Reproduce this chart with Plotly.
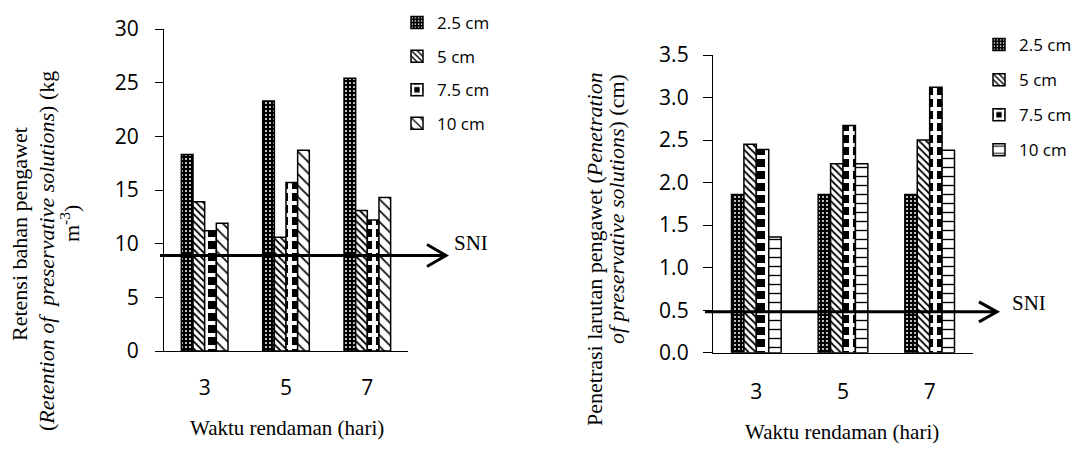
import plotly.graph_objects as go

# ---------------- data ----------------
days = ["3", "5", "7"]
series_names = ["2.5 cm", "5 cm", "7.5 cm", "10 cm"]

retensi_25 = [18.3, 23.3, 25.4]
retensi_5 = [13.9, 10.6, 13.1]
retensi_75 = [11.2, 15.7, 12.2]
retensi_10 = [11.9, 18.7, 14.3]

penetrasi_25 = [1.86, 1.86, 1.86]
penetrasi_5 = [2.45, 2.22, 2.50]
penetrasi_75 = [2.39, 2.67, 3.12]
penetrasi_10 = [1.36, 2.22, 2.38]

sni_retensi = 8.9
sni_penetrasi = 0.48

# ---------------- layout constants ----------------
W, H = 1081, 451
TICK_FONT = dict(family="Open Sans", size=21, color="black")
LEG_FONT = dict(family="Open Sans", size=17, color="black")
SERIF = "Liberation Serif"

def px(x):
    return x / W

def py(y):
    return 1 - y / H

# left plot area (pixels)
L_X0, L_X1, L_YT, L_YB = 164, 408, 29, 351
# right plot area (pixels)
R_X0, R_X1, R_YT, R_YB = 713, 973, 55, 352.7

dots = dict(shape=".", bgcolor="black", fgcolor="white", size=4, solidity=0.2, fgopacity=1)
hatch = dict(shape="\\", bgcolor="white", fgcolor="black", size=5, solidity=0.35, fgopacity=1)
checker = dict(shape="+", bgcolor="black", fgcolor="white", size=12, solidity=0.55, fgopacity=1)

patterns_left = [
    dots, hatch, checker,
    dict(shape="\\", bgcolor="white", fgcolor="black", size=8, solidity=0.2, fgopacity=1),
]
patterns_right = [
    dots, hatch, checker,
    dict(shape="-", bgcolor="white", fgcolor="black", size=9, solidity=0.15, fgopacity=1),
]

fig = go.Figure()

left_values = [retensi_25, retensi_5, retensi_75, retensi_10]
right_values = [penetrasi_25, penetrasi_5, penetrasi_75, penetrasi_10]

for i, (name, vals) in enumerate(zip(series_names, left_values)):
    fig.add_trace(go.Bar(
        x=days, y=vals, name=name, xaxis="x", yaxis="y",
        legend="legend", legendgroup="L%d" % i,
        marker=dict(color="white", line=dict(color="black", width=1.5),
                    pattern=patterns_left[i]),
    ))

for i, (name, vals) in enumerate(zip(series_names, right_values)):
    fig.add_trace(go.Bar(
        x=days, y=vals, name=name, xaxis="x2", yaxis="y2",
        legend="legend2", legendgroup="R%d" % i,
        marker=dict(color="white", line=dict(color="black", width=1.5),
                    pattern=patterns_right[i]),
    ))

axis_common = dict(showline=True, linecolor="black", linewidth=1.3, automargin=False,
                   showgrid=False, zeroline=False, tickfont=TICK_FONT)

fig.update_layout(
    width=W, height=H,
    margin=dict(l=0, r=0, t=0, b=0, autoexpand=False),
    paper_bgcolor="white", plot_bgcolor="white",
    barmode="group", bargap=0.427, bargroupgap=0,
    xaxis=dict(domain=[px(L_X0), px(L_X1)], anchor="y", type="category",
               ticks="", ticklabelstandoff=18, **axis_common),
    yaxis=dict(domain=[py(L_YB), py(L_YT)], anchor="x", range=[0, 30], dtick=5,
               ticks="outside", ticklen=8, tickwidth=1.3, tickcolor="black",
               ticklabelstandoff=12, **axis_common),
    xaxis2=dict(domain=[px(R_X0), px(R_X1)], anchor="y2", type="category",
                ticks="", ticklabelstandoff=20, **axis_common),
    yaxis2=dict(domain=[py(R_YB), py(R_YT)], anchor="x2", range=[0, 3.5], dtick=0.5,
                tickformat=".1f", ticks="outside", ticklen=9, tickwidth=1.3,
                tickcolor="black", ticklabelstandoff=10, **axis_common),
    legend=dict(x=px(397), xanchor="left", y=py(5), yanchor="top",
                font=LEG_FONT, bgcolor="rgba(0,0,0,0)", tracegroupgap=8.5,
                itemwidth=30),
    legend2=dict(x=px(979), xanchor="left", y=py(27), yanchor="top",
                 font=LEG_FONT, bgcolor="rgba(0,0,0,0)", tracegroupgap=10,
                 itemwidth=30),
    showlegend=True,
)

# ---------------- SNI arrows ----------------
def sni_arrow(x0, x1, y, yref, unit_px, head_w, head_h):
    dy = head_h / unit_px
    fig.add_shape(type="line", xref="paper", yref=yref, x0=px(x0), x1=px(x1 - 2),
                  y0=y, y1=y, line=dict(color="black", width=3))
    fig.add_shape(type="path", xref="paper", yref=yref,
                  path="M %f,%f L %f,%f L %f,%f" % (px(x1 - head_w), y + dy, px(x1), y,
                                                   px(x1 - head_w), y - dy),
                  line=dict(color="black", width=3))

sni_arrow(160, 446, sni_retensi, "y", (L_YB - L_YT) / 30, 19, 11)
sni_arrow(705, 997, sni_penetrasi, "y2", (R_YB - R_YT) / 3.5, 18, 10)

ann_font = dict(family=SERIF, size=21, color="black")
yt_font = dict(family=SERIF, size=22, color="black")

annotations = [
    dict(text="SNI", x=px(452), y=py(243), xanchor="left", yanchor="middle", font=ann_font),
    dict(text="SNI", x=px(1010), y=py(303), xanchor="left", yanchor="middle", font=ann_font),
    dict(text="Waktu rendaman (hari)", x=px(286.5), y=py(428), xanchor="center",
         yanchor="middle", font=ann_font),
    dict(text="Waktu rendaman (hari)", x=px(842), y=py(432), xanchor="center",
         yanchor="middle", font=ann_font),
    dict(text="Retensi bahan pengawet", x=px(20), y=py(234), textangle=-90,
         xanchor="center", yanchor="middle", font=yt_font),
    dict(text="(<i>Retention of  preservative solutions</i>) (kg", x=px(46), y=py(251),
         textangle=-90, xanchor="center", yanchor="middle", font=yt_font),
    dict(text="m<sup>-3</sup>)", x=px(70), y=py(224), textangle=-90,
         xanchor="center", yanchor="middle", font=yt_font),
    dict(text="Penetrasi larutan pengawet (<i>Penetration</i>", x=px(594), y=py(249),
         textangle=-90, xanchor="center", yanchor="middle", font=yt_font),
    dict(text="<i>of preservative solutions</i>) (cm)", x=px(617), y=py(209),
         textangle=-90, xanchor="center", yanchor="middle", font=yt_font),
]
for a in annotations:
    a.update(xref="paper", yref="paper", showarrow=False)
fig.update_layout(annotations=annotations)

fig.write_html("out.html", config={"displayModeBar": False},
               post_script="document.body.style.margin='0';")
